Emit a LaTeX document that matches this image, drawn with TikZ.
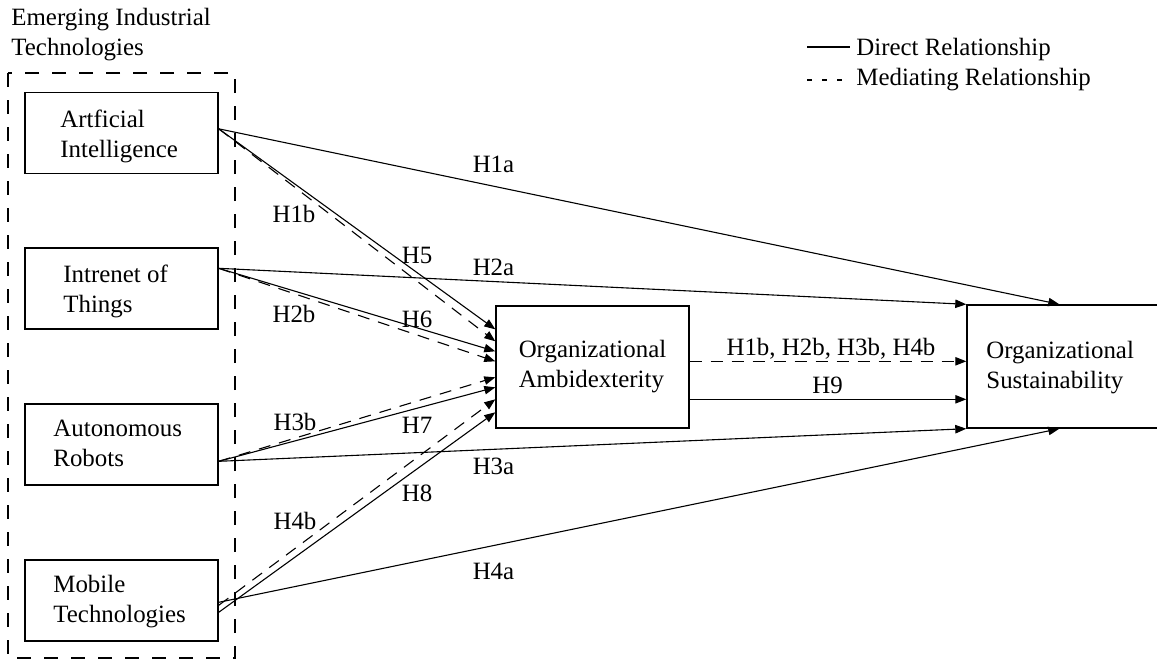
\documentclass[tikz,border=0pt]{standalone}
\usepackage{fontspec}
\setmainfont{Liberation Serif}
\usetikzlibrary{arrows.meta,calc}
\begin{document}
\begin{tikzpicture}[x=0.5pt,y=-0.5pt,
  box/.style={draw, line width=0.7pt, minimum width=96.5pt, minimum height=40.5pt, inner sep=0pt},
  txt/.style={font=\fontsize{12.45pt}{15pt}\selectfont, align=left, inner sep=0pt},
  lab/.style={font=\fontsize{12.45pt}{15pt}\selectfont, inner sep=0pt, anchor=base},
  conn/.style={line width=0.55pt, -{Triangle[length=5.5pt,width=4.2pt]}},
  med/.style={conn, dash pattern=on 6pt off 4.5pt},
  grp/.style={line width=0.6pt, dash pattern=on 7pt off 6.5pt},
]
\useasboundingbox (0,0) rectangle (1157,661);
\clip (0,0) rectangle (1157,661);

% group
\node[txt, anchor=west] (title) at (11,35) {Emerging Industrial\\Technologies};
\draw[grp] (8,73) rectangle (235,658);

% source boxes
\node[box] (AI)  at (121.5,133) {};
\node[box] (IoT) at (121.5,288.5) {};
\node[box] (AR)  at (121.5,444.5) {};
\node[box] (MT)  at (121.5,600.5) {};
\node[txt, anchor=west] (AIt)  at (60,136) {Artficial\\Intelligence};
\node[txt, anchor=west] (IoTt) at (63,291) {Intrenet of\\Things};
\node[txt, anchor=west] (ARt)  at (53,443.5) {Autonomous\\Robots};
\node[txt, anchor=west] (MTt)  at (53,602) {Mobile\\Technologies};

% mediator and outcome
\node[box, minimum height=61pt, txt, align=left] (OA) at (592.5,367) {Organizational\\Ambidexterity};
\node[box, minimum width=116.5pt, minimum height=61.5pt] (OS) at (1083.5,366.5) {};
\node[txt, anchor=west] (OSt) at (986,368) {Organizational\\Sustainability};

% start points
\coordinate (sAI)  at ($(AI.north east)+(0,37)$);
\coordinate (sIoT) at ($(IoT.north east)+(0,21)$);
\coordinate (sAR)  at ($(AR.north east)+(0,58)$);
\coordinate (sMTa) at ($(MT.north east)+(0,43)$);
\coordinate (sMTb) at ($(MT.north east)+(0,46)$);
\coordinate (sMTc) at ($(MT.north east)+(0,53)$);

% direct to outcome
\draw[conn] (sAI)  -- ($(OS.north west)+(93,0)$);
\draw[conn] (sIoT) -- (OS.north west);
\draw[conn] (sAR)  -- (OS.south west);
\draw[conn] (sMTa) -- ($(OS.south west)+(93,0)$);

% to mediator
\draw[conn] (sAI)  -- ($(OA.north west)+(0,24)$);
\draw[med]  (sAI)  -- ($(OA.north west)+(0,36)$);
\draw[conn] (sIoT) -- ($(OA.north west)+(0,46)$);
\draw[med]  (sIoT) -- ($(OA.north west)+(0,56)$);
\draw[med]  (sAR)  -- ($(OA.north west)+(0,72)$);
\draw[conn] (sAR)  -- ($(OA.north west)+(0,82)$);
\draw[med]  (sMTb) -- ($(OA.north west)+(0,94)$);
\draw[conn] (sMTc) -- ($(OA.north west)+(0,107)$);

% mediator to outcome
\draw[med]  ($(OA.north east)+(0,56)$) -- ($(OS.north west)+(0,57)$);
\draw[conn] ($(OA.north east)+(0,94)$) -- ($(OS.north west)+(0,95)$);

% labels
\node[lab] (l1a) at (493.5,172) {H1a};
\node[lab] (l1b) at (294,222) {H1b};
\node[lab] (l5)  at (417,263) {H5};
\node[lab] (l2a) at (493.5,275) {H2a};
\node[lab] (l2b) at (294,322) {H2b};
\node[lab] (l6)  at (417,327) {H6};
\node[lab] (l3b) at (295,430) {H3b};
\node[lab] (l7)  at (417,433) {H7};
\node[lab] (l3a) at (493.5,474) {H3a};
\node[lab] (l8)  at (417,501) {H8};
\node[lab] (l4b) at (295,529) {H4b};
\node[lab] (l4a) at (493.5,579) {H4a};
\node[lab] (lmed) at (831,355) {H1b, H2b, H3b, H4b};
\node[lab] (l9)  at (827.5,393) {H9};

% legend
\coordinate (lg1a) at (807,47);
\coordinate (lg1b) at (850,47);
\coordinate (lg2a) at (807,80);
\coordinate (lg2b) at (850,80);
\draw[line width=0.55pt] (lg1a) -- (lg1b);
\draw[line width=0.55pt, dash pattern=on 2.5pt off 5pt] (lg2a) -- (lg2b);
\node[lab, anchor=base west] (lgt1) at (856,55) {Direct Relationship};
\node[lab, anchor=base west] (lgt2) at (856,85) {Mediating Relationship};
\end{tikzpicture}
\end{document}
